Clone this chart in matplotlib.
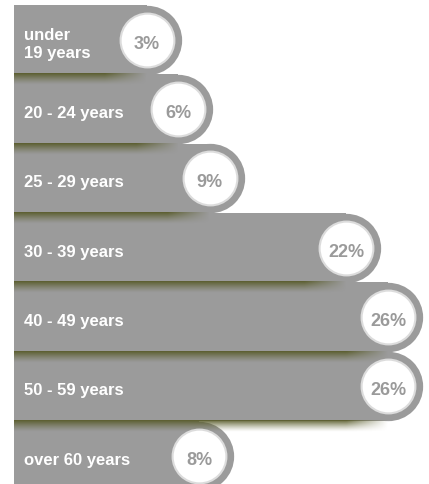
import numpy as np
import matplotlib
matplotlib.use('Agg')
import matplotlib.pyplot as plt

# age groups and share of respondents
labels = ['under\n19 years', '20 - 24 years', '25 - 29 years', '30 - 39 years',
          '40 - 49 years', '50 - 59 years', 'over 60 years']
values = [3, 6, 9, 22, 26, 26, 8]
value_labels = ['{}%'.format(v) for v in values]

plt.rcParams['font.family'] = ['Liberation Sans', 'DejaVu Sans']

BAR_GREY = '#9b9b9b'
BASE = -9.62          # left edge of the bars
XLIM = (-10.95, 29.9)
YLIM = (6.41, -0.587)

fig = plt.figure(figsize=(4.29, 4.85), dpi=100)
fig.patch.set_facecolor('white')
ax = fig.add_axes([0, 0, 1, 1])
ax.set_xlim(*XLIM)
ax.set_ylim(*YLIM)
ax.axis('off')

rows = np.arange(len(values))

# bar body + rounded end cap (cap centred on the value)
ax.barh(rows, [v - BASE for v in values], left=BASE, height=1.0,
        color=BAR_GREY, linewidth=0, zorder=1)
ax.scatter(values, rows, s=2490, color=BAR_GREY, linewidths=0, zorder=1)

# olive shadow under each bar, falling on the next one
ny, nx = 24, 200
t = np.linspace(0, 1, ny)[:, None]
for i in range(1, len(values)):
    x_end = values[i - 1]
    xs = np.linspace(BASE, x_end, nx)[None, :]
    fade = np.clip((x_end - xs) / 4.0, 0, 1)
    alpha = 0.92 * (1 - t) ** 1.3 * fade
    img = np.zeros((ny, nx, 4))
    img[..., 0] = 0.34
    img[..., 1] = 0.35
    img[..., 2] = 0.15
    img[..., 3] = alpha
    ax.imshow(img, extent=[BASE, x_end, i - 0.5 + 0.16, i - 0.5],
              aspect='auto', interpolation='bilinear', zorder=2)

ax.set_xlim(*XLIM)
ax.set_ylim(*YLIM)

# white value badges
ax.scatter(values, rows, s=1500, color='white', edgecolors='#dcdcdc',
           linewidths=1.5, zorder=3)

for i, v in enumerate(values):
    ax.text(v, i + 0.05, value_labels[i], ha='center', va='center',
            fontsize=13, fontweight='bold', color='#9a9a9a', zorder=4)
    ax.text(BASE + 0.95, i + 0.05, labels[i], ha='left', va='center',
            fontsize=12, fontweight='bold', color='white',
            linespacing=1.25, zorder=4)

plt.savefig('out.png', dpi=100, facecolor='white')
